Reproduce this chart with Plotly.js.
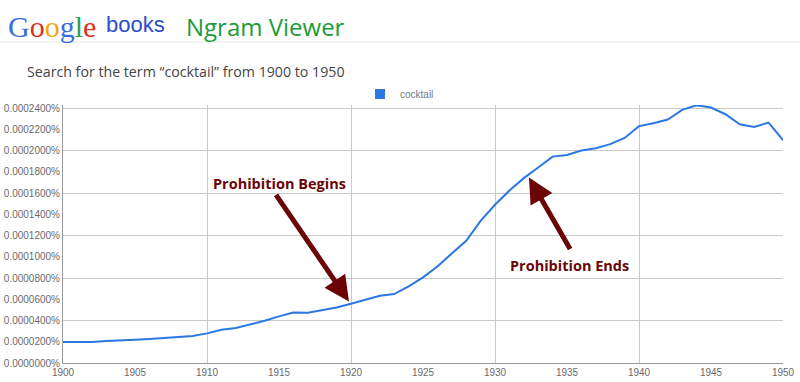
<!DOCTYPE html>
<html>
<head>
<meta charset="utf-8">
<script src="https://cdn.plot.ly/plotly-3.0.1.min.js"></script>
<style>html,body{margin:0;padding:0;background:#fff;}#chart{width:800px;height:382px;}</style>
</head>
<body>
<div id="chart"></div>
<script>
var years = [1900,1901,1902,1903,1904,1905,1906,1907,1908,1909,
             1910,1911,1912,1913,1914,1915,1916,1917,1918,1919,
             1920,1921,1922,1923,1924,1925,1926,1927,1928,1929,
             1930,1931,1932,1933,1934,1935,1936,1937,1938,1939,
             1940,1941,1942,1943,1944,1945,1946,1947,1948,1949,1950];
var cocktail = [0.0000198,0.0000196,0.0000197,0.0000208,0.0000210,0.0000218,0.0000226,0.0000238,0.0000243,0.0000255,
                0.0000279,0.0000313,0.0000329,0.0000360,0.0000398,0.0000439,0.0000476,0.0000473,0.0000495,0.0000523,
                0.0000558,0.0000593,0.0000633,0.0000649,0.0000721,0.0000806,0.0000909,0.0001032,0.0001151,0.0001339,
                0.0001490,0.0001624,0.0001741,0.0001841,0.0001944,0.0001960,0.0002001,0.0002023,0.0002061,0.0002120,
                0.0002231,0.0002259,0.0002293,0.0002384,0.0002428,0.0002406,0.0002343,0.0002249,0.0002224,0.0002264,0.0002099];
var seriesName = "cocktail";
var subtitle = "Search for the term \u201ccocktail\u201d from 1900 to 1950";
var beginsLabel = "Prohibition Begins";
var endsLabel = "Prohibition Ends";
var beginsPoint = {year: 1919.86, value: 0.0000580};
var endsPoint = {year: 1932.36, value: 0.0001747};

var W = 800, H = 382;
var M = {l: 63, r: 17, t: 105, b: 19};
var pw = W - M.l - M.r, ph = H - M.t - M.b;
function px(x) { return (x - M.l) / pw; }
function py(y) { return (H - M.b - y) / ph; }

var yMax = 0.000243;
var lineBlue = "#2b78e4";
var maroon = "#6b0505";

var traces = [
  {x: years, y: cocktail, type: "scatter", mode: "lines", name: seriesName,
   line: {color: lineBlue, width: 2}, showlegend: false, hoverinfo: "x+y"},
  {x: [null], y: [null], type: "scatter", mode: "markers", name: seriesName,
   marker: {symbol: "square", size: 10, color: lineBlue}, showlegend: true},
  {x: years, y: cocktail, xaxis: "x2", yaxis: "y2", type: "scatter", mode: "lines",
   line: {width: 0, color: "rgba(0,0,0,0)"}, showlegend: false, hoverinfo: "skip"}
];

var tickFont = {family: "Liberation Sans, Arial, sans-serif", size: 10, color: "#6a6a6a"};

var layout = {
  width: W, height: H,
  margin: M,
  paper_bgcolor: "#fff", plot_bgcolor: "rgba(0,0,0,0)",
  showlegend: true,
  legend: {orientation: "h", x: px(360), y: py(94), xanchor: "left", yanchor: "middle",
           font: {family: "Liberation Sans, Arial, sans-serif", size: 10, color: "#777"},
           bgcolor: "rgba(0,0,0,0)", itemwidth: 30},
  xaxis: {range: [1900, 1950], tick0: 1900, dtick: 5, showgrid: false, zeroline: false,
          showline: true, linecolor: "#9a9a9a", linewidth: 1, ticks: "", tickfont: tickFont,
          ticklen: 0},
  yaxis: {range: [0, yMax], tick0: 0, dtick: 0.00002, tickformat: ".7f", ticksuffix: "%",
          showgrid: false, zeroline: false, showline: true, linecolor: "#9a9a9a", linewidth: 1,
          ticks: "", tickfont: tickFont},
  xaxis2: {range: [1900, 1950], tick0: 1900, dtick: 10, overlaying: "x", showgrid: true,
           gridcolor: "#c9c9c9", gridwidth: 1, showticklabels: false, zeroline: false, showline: false},
  yaxis2: {range: [0, yMax], tick0: 0, dtick: 0.00004, overlaying: "y", showgrid: true,
           gridcolor: "#c9c9c9", gridwidth: 1, showticklabels: false, zeroline: false, showline: false},
  shapes: [
    {type: "line", xref: "paper", yref: "paper", x0: px(0), x1: px(800), y0: py(42), y1: py(42),
     line: {color: "#e6e6e6", width: 1}}
  ],
  annotations: [
    {xref: "paper", yref: "paper", x: px(6), y: py(27), xanchor: "left", yanchor: "middle", showarrow: false,
     text: '<span style="color:#3a6ee0">G</span><span style="color:#d8321f">o</span><span style="color:#efa90c">o</span><span style="color:#3a6ee0">g</span><span style="color:#2da44a">l</span><span style="color:#d8321f">e</span>',
     font: {family: "Liberation Serif, DejaVu Serif, serif", size: 30}},
    {xref: "paper", yref: "paper", x: px(104), y: py(25), xanchor: "left", yanchor: "middle", showarrow: false,
     text: "books", font: {family: "Liberation Sans, Arial, sans-serif", size: 22, color: "#2c4ccf"}},
    {xref: "paper", yref: "paper", x: px(184), y: py(27), xanchor: "left", yanchor: "middle", showarrow: false,
     text: "Ngram Viewer", font: {family: "Open Sans, sans-serif", size: 24, color: "#1b9b3a"}},
    {xref: "paper", yref: "paper", x: px(25), y: py(71), xanchor: "left", yanchor: "middle", showarrow: false,
     text: subtitle, font: {family: "Open Sans, sans-serif", size: 14.2, color: "#444"}},
    {xref: "x", yref: "y", x: beginsPoint.year, y: beginsPoint.value, axref: "pixel", ayref: "pixel",
     ax: -74, ay: -108, showarrow: true, arrowhead: 2, arrowsize: 1.0, arrowwidth: 5,
     arrowcolor: maroon, text: "", standoff: 0},
    {xref: "x", yref: "y", x: endsPoint.year, y: endsPoint.value, axref: "pixel", ayref: "pixel",
     ax: 42, ay: 73, showarrow: true, arrowhead: 2, arrowsize: 1.0, arrowwidth: 5,
     arrowcolor: maroon, text: "", standoff: 0},
    {xref: "paper", yref: "paper", x: px(279), y: py(183), xanchor: "center", yanchor: "middle", showarrow: false,
     text: "<b>" + beginsLabel + "</b>", font: {family: "Open Sans, sans-serif", size: 14.5, color: maroon}},
    {xref: "paper", yref: "paper", x: px(569), y: py(265), xanchor: "center", yanchor: "middle", showarrow: false,
     text: "<b>" + endsLabel + "</b>", font: {family: "Open Sans, sans-serif", size: 14.5, color: maroon}}
  ]
};

Plotly.newPlot("chart", traces, layout, {displayModeBar: false, staticPlot: true});
</script>
</body>
</html>
